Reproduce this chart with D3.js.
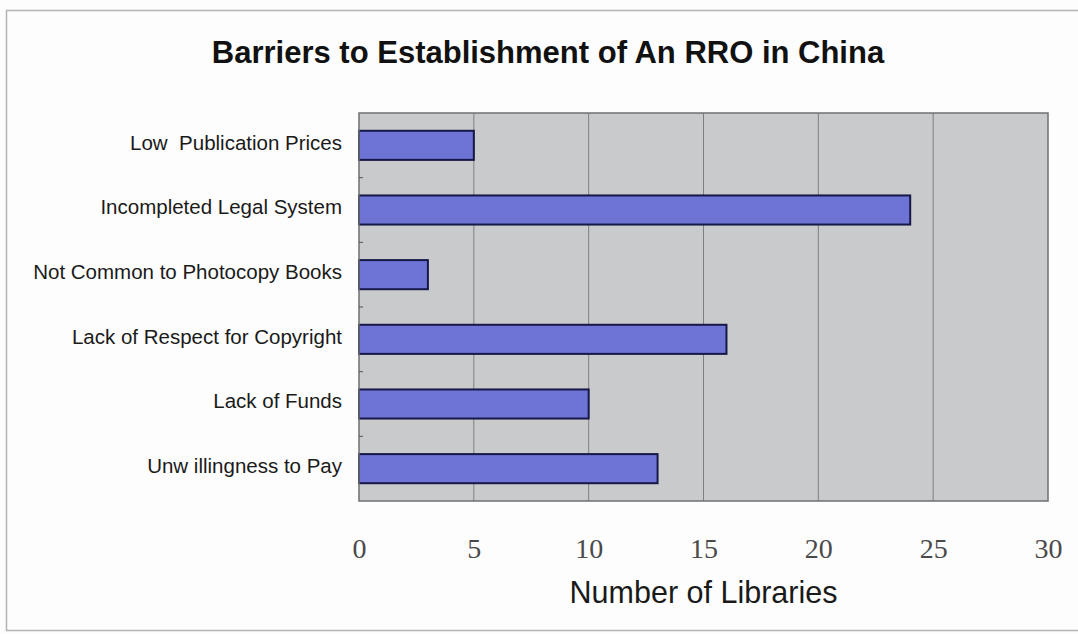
<!DOCTYPE html>
<html>
<head>
<meta charset="utf-8">
<script src="https://cdn.jsdelivr.net/npm/d3@7/dist/d3.min.js"></script>
<style>
  html, body { margin: 0; padding: 0; background: #ffffff; }
  svg { display: block; }
</style>
</head>
<body>
<svg id="chart" width="1078" height="634"></svg>
<script>
// Survey responses: barriers to setting up a reproduction rights organisation
const categories = [
  "Low  Publication Prices",
  "Incompleted Legal System",
  "Not Common to Photocopy Books",
  "Lack of Respect for Copyright",
  "Lack of Funds",
  "Unw illingness to Pay"
];
const libraryCounts = [5, 24, 3, 16, 10, 13];
const xTicks = [0, 5, 10, 15, 20, 25, 30];
const titleText = "Barriers to Establishment of An RRO in China";
const xAxisTitle = "Number of Libraries";

const svg = d3.select("#chart");
const W = 1078, H = 634;
const plot = { left: 359, top: 113, right: 1048, bottom: 501 };

// page background and outer frame
svg.append("rect").attr("width", W).attr("height", H).attr("fill", "#fdfdfd");
svg.append("path")
  .attr("d", `M${W},10.5 H6.5 V630.5 H${W}`)
  .attr("fill", "none").attr("stroke", "#b4b4b4").attr("stroke-width", 1.5);

const x = d3.scaleLinear().domain([0, 30]).range([plot.left, plot.right]);
const y = d3.scaleBand().domain(categories).range([plot.top, plot.bottom]).paddingInner(0.55).paddingOuter(0.275);
const yBounds = d3.scaleLinear().domain([0, categories.length]).range([plot.top, plot.bottom]);

// plot area
svg.append("rect")
  .attr("x", plot.left).attr("y", plot.top)
  .attr("width", plot.right - plot.left).attr("height", plot.bottom - plot.top)
  .attr("fill", "#c9cacc");

// vertical gridlines
svg.append("g").selectAll("line")
  .data(xTicks.slice(1, -1))
  .join("line")
  .attr("x1", d => x(d)).attr("x2", d => x(d))
  .attr("y1", plot.top).attr("y2", plot.bottom)
  .attr("stroke", "#7d7f82").attr("stroke-width", 1);

// bars
svg.append("g").selectAll("rect")
  .data(categories.map((c, i) => ({ c, v: libraryCounts[i] })))
  .join("rect")
  .attr("x", x(0))
  .attr("y", d => y(d.c))
  .attr("width", d => x(d.v) - x(0))
  .attr("height", y.bandwidth())
  .attr("fill", "#6d74d4")
  .attr("stroke", "#161848")
  .attr("stroke-width", 2);

// plot frame
svg.append("rect")
  .attr("x", plot.left).attr("y", plot.top)
  .attr("width", plot.right - plot.left).attr("height", plot.bottom - plot.top)
  .attr("fill", "none").attr("stroke", "#6e7073").attr("stroke-width", 1.5);

// inner ticks at category boundaries
svg.append("g").selectAll("line")
  .data(d3.range(1, categories.length))
  .join("line")
  .attr("x1", plot.left).attr("x2", plot.left + 4)
  .attr("y1", d => yBounds(d)).attr("y2", d => yBounds(d))
  .attr("stroke", "#555").attr("stroke-width", 1);

// category labels
svg.append("g").selectAll("text")
  .data(categories)
  .join("text")
  .attr("x", 342)
  .attr("y", d => y(d) + y.bandwidth() / 2 - 3)
  .attr("dy", "0.35em")
  .attr("text-anchor", "end")
  .attr("font-family", "'Liberation Sans', Arial, sans-serif")
  .attr("font-size", 20.5)
  .attr("fill", "#1a1a1a")
  .attr("xml:space", "preserve")
  .style("white-space", "pre")
  .text(d => d);

// x axis labels
const xAxis = d3.axisBottom(x).tickValues(xTicks).tickSize(0).tickPadding(0);
const gx = svg.append("g").attr("transform", `translate(0,${plot.bottom + 47})`).call(xAxis);
gx.select(".domain").remove();
gx.selectAll("text")
  .attr("font-family", "'Liberation Serif', 'DejaVu Serif', serif")
  .attr("font-size", 28)
  .attr("fill", "#4a4a4a")
  .attr("dy", "0.35em");

// axis title
svg.append("text")
  .attr("x", x(15)).attr("y", 603)
  .attr("text-anchor", "middle")
  .attr("font-family", "'Liberation Sans', Arial, sans-serif")
  .attr("font-size", 30.5)
  .attr("fill", "#1a1a1a")
  .text(xAxisTitle);

// chart title
svg.append("text")
  .attr("x", 548).attr("y", 63)
  .attr("text-anchor", "middle")
  .attr("font-family", "'Liberation Sans', Arial, sans-serif")
  .attr("font-weight", "bold")
  .attr("font-size", 31)
  .attr("fill", "#111")
  .text(titleText);
</script>
</body>
</html>
